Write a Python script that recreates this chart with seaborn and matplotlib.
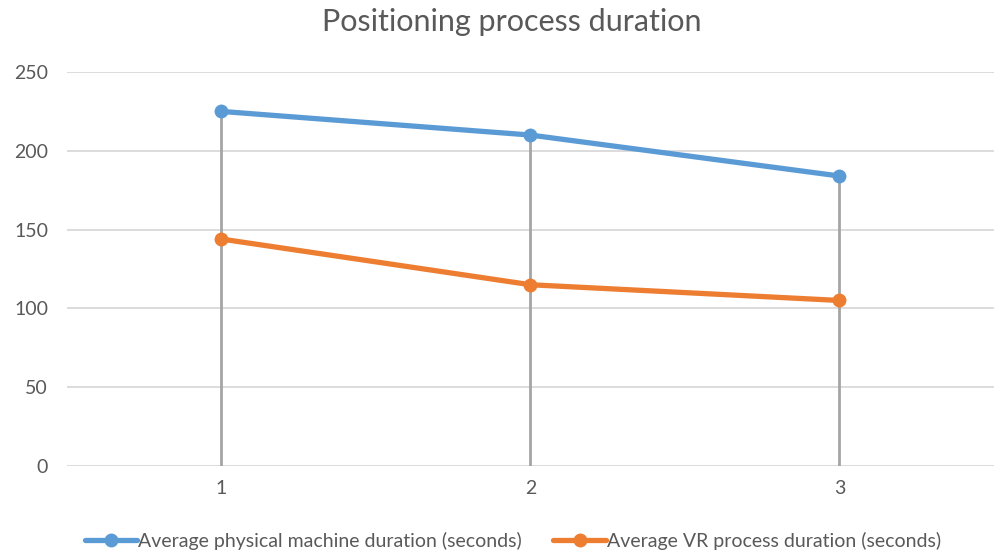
import matplotlib
matplotlib.use("Agg")
import matplotlib.pyplot as plt
import seaborn as sns
import pandas as pd

# Chart data
trials = [1, 2, 3]
physical_seconds = [225, 210, 184]
vr_seconds = [144, 115, 105]
series_names = ["Average physical machine duration (seconds)",
                "Average VR process duration (seconds)"]
title = "Positioning process duration"
y_ticks = [0, 50, 100, 150, 200, 250]

sns.set_theme(style="white")
plt.rcParams["font.family"] = ["Lato", "DejaVu Sans"]

df = pd.DataFrame({
    "trial": trials * 2,
    "seconds": physical_seconds + vr_seconds,
    "series": [series_names[0]] * len(trials) + [series_names[1]] * len(trials),
})

fig = plt.figure(figsize=(9.96, 5.54), dpi=100)
ax = fig.add_axes([0.067, 0.159, 0.931, 0.711])

grid_color = "#D9D9D9"
text_color = "#595959"

for t in y_ticks:
    ax.axhline(t, color=grid_color, lw=1.3, zorder=0)

# Drop lines from the highest point at each trial down to the axis
tops = [max(a, b) for a, b in zip(physical_seconds, vr_seconds)]
ax.vlines(trials, 0, tops, color="#A5A5A5", lw=2, zorder=1)

sns.lineplot(data=df, x="trial", y="seconds", hue="series",
             palette=["#5B9BD5", "#ED7D31"], marker="o", markersize=10,
             markeredgewidth=0, linewidth=3.8, ax=ax, zorder=3)

ax.set_xlim(0.5, 3.5)
ax.set_ylim(0, 250)
ax.set_xticks(trials)
ax.set_yticks(y_ticks)
ax.tick_params(axis="both", length=0, labelsize=14, labelcolor=text_color)
ax.tick_params(axis="x", pad=10)
ax.tick_params(axis="y", pad=13.5)
ax.set_xlabel("")
ax.set_ylabel("")
for s in ax.spines.values():
    s.set_visible(False)

fig.text(512 / 996, 1 - 22 / 554, title, ha="center", va="center",
         fontsize=22, color=text_color)

handles, labels = ax.get_legend_handles_labels()
ax.get_legend().remove()
fig.legend(handles, labels, loc="center", bbox_to_anchor=(0.515, 1 - 541 / 554),
           ncol=2, frameon=False, fontsize=14, labelcolor=text_color,
           handlelength=2.7, handletextpad=0.05, columnspacing=1.6)

fig.savefig("out.png", dpi=100)
